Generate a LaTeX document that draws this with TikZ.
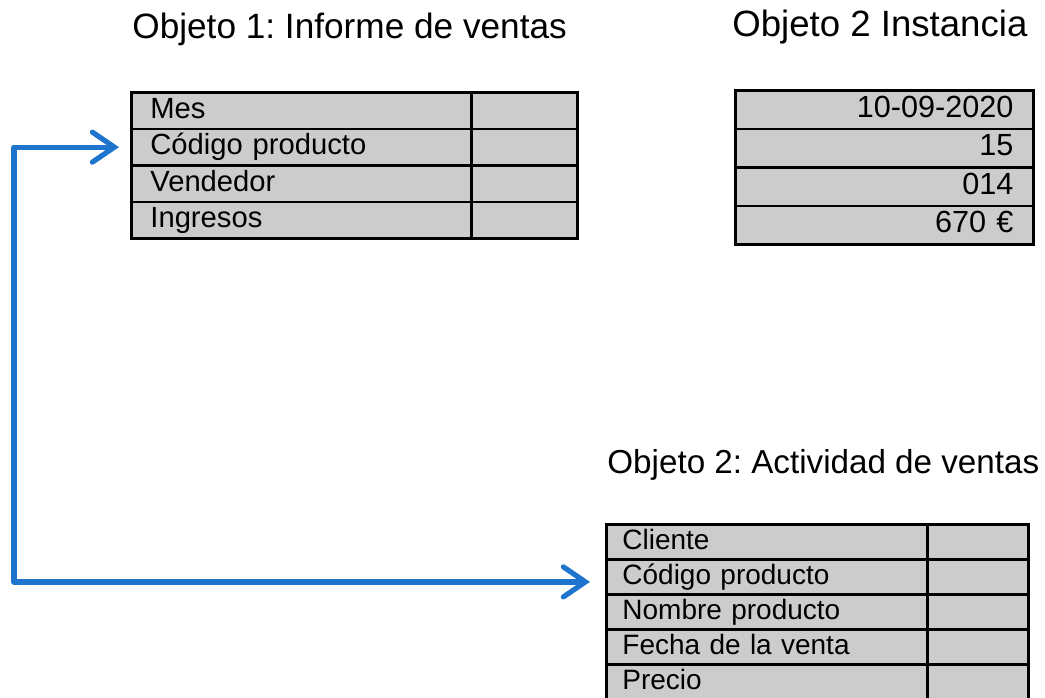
\documentclass[tikz,border=0pt]{standalone}
\usepackage{fontspec}
\setmainfont{Liberation Sans}
\usetikzlibrary{arrows.meta}
\definecolor{linkblue}{RGB}{31,117,206}
\frenchspacing

\begin{document}
\begin{tikzpicture}[x=0.5pt,y=-0.5pt,
    title/.style={anchor=base west, inner sep=0pt},
    cell/.style={draw, line width=1.4pt, fill=black!20, anchor=north west,
      inner ysep=0pt, text height=10.5pt, text depth=3pt},
    namecellA/.style={cell, minimum height=18.25pt, text width=151pt, inner xsep=9.5pt,
      align=left, font=\fontsize{14.6}{17}\selectfont},
    valcellA/.style={cell, minimum height=18.25pt, minimum width=53pt},
    instcell/.style={cell, minimum height=19.25pt, text width=129pt, inner xsep=10pt,
      align=right, font=\fontsize{15.3}{18}\selectfont},
    namecellB/.style={cell, minimum height=17.5pt, text width=144.5pt, inner xsep=8pt,
      align=left, font=\fontsize{14}{16}\selectfont},
    valcellB/.style={cell, minimum height=17.5pt, minimum width=50.5pt},
    link/.style={draw=linkblue, line width=2.6pt, line join=round,
      {Straight Barb[length=11pt,width=15pt,line cap=round]}-{Straight Barb[length=11pt,width=15pt,line cap=round]}}]
    \useasboundingbox (0,0) rectangle (1045,697);

    % titles
    \node[title, font=\fontsize{17.6}{20}\selectfont] (tinforme) at (132,38) {Objeto 1: Informe de ventas};
    \node[title, font=\fontsize{18.3}{21}\selectfont] (tinstancia) at (732,36) {Objeto 2 Instancia};
    \node[title, font=\fontsize{16.6}{19}\selectfont] (tactividad) at (607,473) {Objeto 2: Actividad de ventas};

    % objeto 1
    \node[namecellA] (mes) at (130,91) {Mes};
    \node[namecellA] (codA) at (130,127.5) {Código producto};
    \node[namecellA] (vendedor) at (130,164) {Vendedor};
    \node[namecellA] (ingresos) at (130,200.5) {Ingresos};
    \node[valcellA] (vmes) at (470,91) {};
    \node[valcellA] (vcodA) at (470,127.5) {};
    \node[valcellA] (vvendedor) at (470,164) {};
    \node[valcellA] (vingresos) at (470,200.5) {};

    % instancia
    \node[instcell] (fecha) at (734,89) {10-09-2020};
    \node[instcell] (codigo) at (734,127.5) {15};
    \node[instcell] (vend) at (734,166) {014};
    \node[instcell] (importe) at (734,204.5) {670 €};

    % objeto 2
    \node[namecellB] (cliente) at (605,523) {Cliente};
    \node[namecellB] (codB) at (605,558) {Código producto};
    \node[namecellB] (nombre) at (605,593) {Nombre producto};
    \node[namecellB] (fventa) at (605,628) {Fecha de la venta};
    \node[namecellB] (precio) at (605,663) {Precio};
    \node[valcellB] (vcliente) at (926,523) {};
    \node[valcellB] (vcodB) at (926,558) {};
    \node[valcellB] (vnombre) at (926,593) {};
    \node[valcellB] (vfventa) at (926,628) {};
    \node[valcellB] (vprecio) at (926,663) {};

    % enlace
    \coordinate (rail) at (14,0);
    \draw[link] ([xshift=-5.5pt]codA.west) -- (codA.west -| rail)
      -- ([yshift=-2.5pt]codB.west -| rail) -- ([xshift=-7.5pt,yshift=-2.5pt]codB.west);
  \end{tikzpicture}
\end{document}
